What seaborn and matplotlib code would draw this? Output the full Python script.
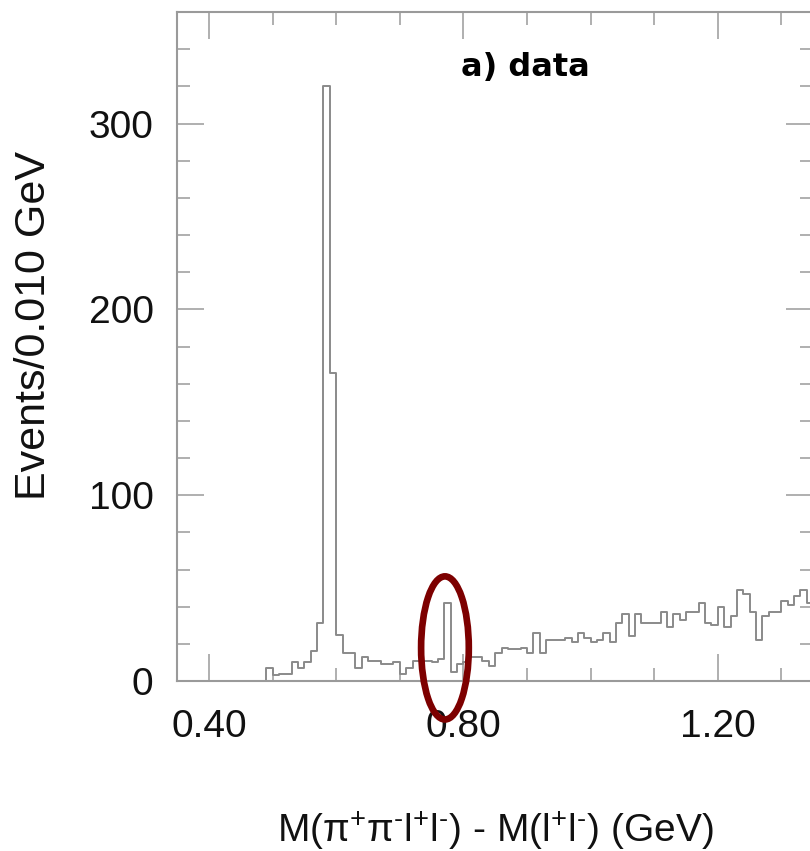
import numpy as np
import matplotlib
matplotlib.use("Agg")
import matplotlib.pyplot as plt
from matplotlib.patches import Ellipse
from matplotlib.ticker import MultipleLocator, FormatStrFormatter
import seaborn as sns

# ---------------------------------------------------------------------------
# Data: events per 0.010 GeV bin, M(pi+pi-l+l-) - M(l+l-)
# ---------------------------------------------------------------------------
bin_width = 0.01
x_range = (0.35, 1.35)
bin_lo = np.round(np.arange(0.35, 1.35, bin_width), 2)   # lower bin edges

counts = [0] * 14 + [
    7, 3, 4, 4, 10, 7, 10, 16, 31, 320,          # 0.49 - 0.58
    166, 25, 15, 15, 7, 13, 11, 11, 9, 9,        # 0.59 - 0.68
    10, 4, 7, 11, 11, 11, 10, 12, 42, 5,         # 0.69 - 0.78
    9, 10, 13, 13, 11, 8, 15, 18, 17, 17,        # 0.79 - 0.88
    18, 15, 26, 15, 22, 22, 22, 23, 21, 26,      # 0.89 - 0.98
    23, 21, 22, 26, 21, 31, 36, 24, 36, 31,      # 0.99 - 1.08
    31, 31, 37, 29, 36, 33, 37, 37, 42, 31,      # 1.09 - 1.18
    30, 40, 29, 35, 49, 47, 37, 22, 35, 37,      # 1.19 - 1.28
    37, 43, 41, 46, 49, 42,                      # 1.29 - 1.34
]

y_max = 360

title_text = "a) data"
x_label = "M(π$^{+}$π$^{\u2010}$l$^{+}$l$^{\u2010}$) - M(l$^{+}$l$^{\u2010}$) (GeV)"
y_label = "Events/0.010 GeV"

# highlighted region (omega candidate)
ring_center = (0.771, 17.8)
ring_size = (0.075, 77)

# ---------------------------------------------------------------------------
# Style
# ---------------------------------------------------------------------------
sns.set_style("ticks")
plt.rcParams["font.family"] = ["Liberation Sans", "DejaVu Sans"]
plt.rcParams["mathtext.fontset"] = "custom"
plt.rcParams["mathtext.rm"] = "Liberation Sans"
plt.rcParams["mathtext.it"] = "Liberation Sans"
plt.rcParams["mathtext.default"] = "regular"
plt.rcParams["mathtext.fallback"] = "stixsans"

frame_col = "#9a9a9a"
line_col = "#8a8a8a"

fig = plt.figure(figsize=(8.10, 8.51), dpi=100)
ax = fig.add_axes([177.2 / 810, 170 / 851, 636 / 810, 669 / 851])

sns.histplot(x=bin_lo + bin_width / 2, weights=counts, binwidth=bin_width,
             binrange=x_range, element="step", fill=False,
             color=line_col, linewidth=1.4, ax=ax)

ax.set_xlim(*x_range)
ax.set_ylim(0, y_max)

ax.xaxis.set_major_locator(MultipleLocator(0.4))
ax.xaxis.set_minor_locator(MultipleLocator(0.1))
ax.xaxis.set_major_formatter(FormatStrFormatter("%.2f"))
ax.yaxis.set_major_locator(MultipleLocator(100))
ax.yaxis.set_minor_locator(MultipleLocator(20))

for s in ax.spines.values():
    s.set_visible(True)
    s.set_color(frame_col)
    s.set_linewidth(1.5)

ax.tick_params(which="both", direction="in", top=True, right=True,
               color=frame_col, width=1.1, labelsize=28, labelcolor="#111111")
ax.tick_params(which="major", length=19.5)
ax.tick_params(which="minor", length=9.3)
ax.tick_params(axis="x", which="major", pad=20)
ax.tick_params(axis="y", which="major", pad=17)

ax.set_xlabel(x_label, fontsize=28, color="#111111")
ax.xaxis.set_label_coords(0.5, -0.192)
ax.set_ylabel(y_label, fontsize=31, color="#111111")
ax.yaxis.set_label_coords(-0.193, 0.532)

ax.text(0.897, 330, title_text, ha="center", va="center", fontsize=23,
        fontweight="bold", family=["DejaVu Sans"], color="black")

ring = Ellipse(ring_center, ring_size[0], ring_size[1], fill=False,
               edgecolor="#7d0000", linewidth=4.8, clip_on=False, zorder=5)
ax.add_patch(ring)

fig.savefig("out.png", dpi=100)
